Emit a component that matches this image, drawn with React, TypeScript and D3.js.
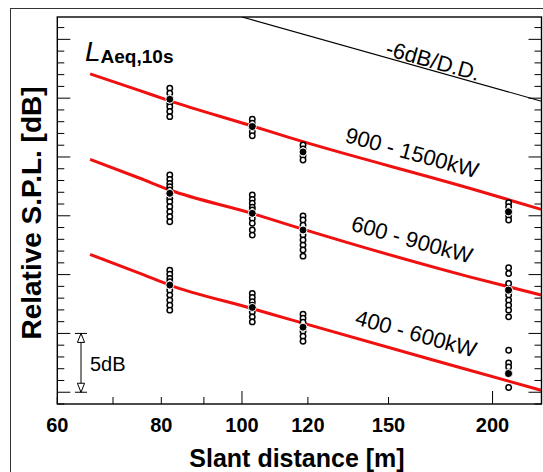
import React from "react";
import * as d3 from "d3";

// ---------- data ----------
const clusterDistances = [81.9, 102.9, 118.4, 209.1];
const groupNames = ["900 - 1500kW", "600 - 900kW", "400 - 600kW"];

const highOpen = [
  [25.85, 25.42, 25.0, 24.57, 24.28, 23.86, 23.43],
  [23.21, 22.87, 22.15, 21.81],
  [21.02, 20.68, 20.09, 19.74],
  [16.11, 15.77, 15.0, 14.64],
];
const highMean = [24.91, 22.58, 20.43, 15.34];

const midOpen = [
  [18.47, 18.1, 17.76, 17.47, 17.19, 16.48, 16.19, 15.77, 15.34, 14.92, 14.49],
  [16.77, 16.4, 16.06, 15.72, 15.49, 14.78, 14.36, 13.79, 13.36],
  [14.98, 14.64, 14.21, 13.36, 12.94, 12.51, 12.09, 11.57],
  [10.58, 10.1, 9.25, 8.26, 7.83, 7.4, 6.98, 6.41],
];
const midMean = [16.91, 15.21, 13.79, 8.68];

const lowOpen = [
  [10.38, 10.04, 9.68, 9.39, 8.68, 8.26, 7.83, 7.4, 6.98],
  [8.4, 8.06, 7.69, 7.4, 6.83, 6.41, 5.98],
  [6.64, 6.3, 5.96, 5.19, 4.77, 4.34],
  [3.57, 2.49, 2.15, 0.4],
];
const lowMean = [9.11, 7.21, 5.53, 1.59];

const curveDistances = [65.7, 75.4, 81.9, 102.8, 114.1, 187.7, 228.7];
const highCurve = [27.06, 25.64, 24.77, 22.64, 21.64, 17.34, 15.55];
const midCurve = [19.8, 18.19, 17.19, 15.21, 14.21, 9.81, 8.26];
const lowCurve = [11.72, 10.1, 9.11, 7.12, 6.19, 1.87, 0.17];

const refLineDistances = [100, 229];
const refLineValues = [31.9, 24.74];
const refLineLabel = "-6dB/D.D.";

const xTickValues = [60, 70, 80, 90, 100, 120, 150, 200];
const xMajorTicks = [100, 200];
const xLabelValues = [60, 80, 100, 120, 150, 200];
const yTickValues = d3.range(-1, 32);
const yMajorStep = 5;
const scaleBarFrom = 0;
const scaleBarTo = 5;
const scaleBarLabel = "5dB";

const FONT = "'Liberation Sans', Arial, sans-serif";

export default function App() {
  const W = 543;
  const H = 472;
  const left = 57.3,
    right = 541.5,
    top = 17,
    bottom = 404;

  const x = d3.scaleLog().domain([60, 229]).range([left, right]);
  const y = d3.scaleLinear().domain([-1, 31.9]).range([bottom, top]);

  const line = d3
    .line<[number, number]>()
    .x((d) => x(d[0]))
    .y((d) => y(d[1]))
    .curve(d3.curveMonotoneX);

  const curves = [highCurve, midCurve, lowCurve].map((vals) =>
    line(curveDistances.map((d, i) => [d, vals[i]] as [number, number]))
  );
  const refPath = d3
    .line<[number, number]>()
    .x((d) => x(d[0]))
    .y((d) => y(d[1]))(refLineDistances.map((d, i) => [d, refLineValues[i]] as [number, number]));

  const opens = [highOpen, midOpen, lowOpen];
  const means = [highMean, midMean, lowMean];

  const barX = 81;
  const triH = 9;
  const triW = 3.6;

  return (
    <svg
      width={W}
      height={H}
      style={{ position: "absolute", left: 0, top: 0, display: "block", background: "#fff" }}
      fontFamily={FONT}
    >
      <defs>
        <clipPath id="plotClip">
          <rect x={left} y={top} width={right - left} height={bottom - top} />
        </clipPath>
      </defs>
      <rect x={0} y={0} width={W} height={H} fill="#fff" />
      {/* outer frame */}
      <rect x={10.5} y={8.5} width={W + 20} height={H + 20} fill="none" stroke="#333" strokeWidth={1} />

      {/* curves */}
      <g clipPath="url(#plotClip)">
        <path d={refPath || ""} fill="none" stroke="#000" strokeWidth={1.1} />
        {curves.map((p, i) => (
          <path key={i} d={p || ""} fill="none" stroke="#f01010" strokeWidth={3} />
        ))}
      </g>

      {/* data points */}
      {opens.map((grp, gi) => (
        <g key={gi}>
          {grp.map((vals, ci) =>
            vals.map((v, k) => (
              <circle
                key={ci + "-" + k}
                cx={x(clusterDistances[ci])}
                cy={y(v)}
                r={2.7}
                fill="#fff"
                stroke="#000"
                strokeWidth={1.5}
              />
            ))
          )}
          {means[gi].map((v, ci) => (
            <circle
              key={"m" + ci}
              cx={x(clusterDistances[ci])}
              cy={y(v)}
              r={4}
              fill="#000"
              stroke="#fff"
              strokeWidth={1}
            />
          ))}
        </g>
      ))}

      {/* axes frame */}
      <rect x={left} y={top} width={right - left} height={bottom - top} fill="none" stroke="#000" strokeWidth={1.4} />

      {/* y ticks left & right */}
      {yTickValues.map((v) => {
        const major = v % yMajorStep === 0;
        const len = major ? 13 : 7;
        const yy = y(v);
        return (
          <g key={v}>
            <line x1={left} x2={left + len} y1={yy} y2={yy} stroke="#000" strokeWidth={1} />
            <line x1={right} x2={right - len} y1={yy} y2={yy} stroke="#000" strokeWidth={1} />
          </g>
        );
      })}

      {/* x ticks */}
      {xTickValues.map((v) => {
        const len = xMajorTicks.includes(v) ? 13 : 7;
        const xx = x(v);
        return <line key={v} x1={xx} x2={xx} y1={bottom} y2={bottom - len} stroke="#000" strokeWidth={1} />;
      })}
      {xLabelValues.map((v) => (
        <text key={v} x={x(v)} y={432} textAnchor="middle" fontSize={20} fontWeight="bold">
          {v}
        </text>
      ))}

      {/* axis titles */}
      <text x={297} y={467} textAnchor="middle" fontSize={25} fontWeight="bold">
        Slant distance [m]
      </text>
      <text
        transform={`translate(41, 213) rotate(-90)`}
        textAnchor="middle"
        fontSize={28}
        fontWeight="bold"
      >
        Relative S.P.L. [dB]
      </text>

      {/* L_Aeq,10s */}
      <text x={85} y={61} fontSize={28} fontStyle="italic">
        L
        <tspan fontSize={19} fontStyle="normal" fontWeight="bold" dy={2}>
          Aeq,10s
        </tspan>
      </text>

      {/* reference line label */}
      <text transform="translate(431, 68) rotate(15.7)" textAnchor="middle" fontSize={22}>
        {refLineLabel}
      </text>

      {/* group labels */}
      <text transform="translate(410, 160) rotate(15.5)" textAnchor="middle" fontSize={22}>
        {groupNames[0]}
      </text>
      <text transform="translate(410, 247) rotate(15.5)" textAnchor="middle" fontSize={22}>
        {groupNames[1]}
      </text>
      <text transform="translate(414, 341) rotate(15.5)" textAnchor="middle" fontSize={22}>
        {groupNames[2]}
      </text>

      {/* 5dB scale bar */}
      <g stroke="#000" strokeWidth={1} fill="#fff">
        <line x1={barX} x2={barX} y1={y(scaleBarFrom)} y2={y(scaleBarTo)} />
        <line x1={barX - 6} x2={barX + 6} y1={y(scaleBarTo)} y2={y(scaleBarTo)} />
        <line x1={barX - 6} x2={barX + 6} y1={y(scaleBarFrom)} y2={y(scaleBarFrom)} />
        <path
          d={`M${barX},${y(scaleBarTo)} L${barX - triW},${y(scaleBarTo) + triH} L${barX + triW},${y(scaleBarTo) + triH} Z`}
        />
        <path
          d={`M${barX},${y(scaleBarFrom)} L${barX - triW},${y(scaleBarFrom) - triH} L${barX + triW},${y(scaleBarFrom) - triH} Z`}
        />
      </g>
      <text x={90} y={371} fontSize={20}>
        {scaleBarLabel}
      </text>
    </svg>
  );
}
